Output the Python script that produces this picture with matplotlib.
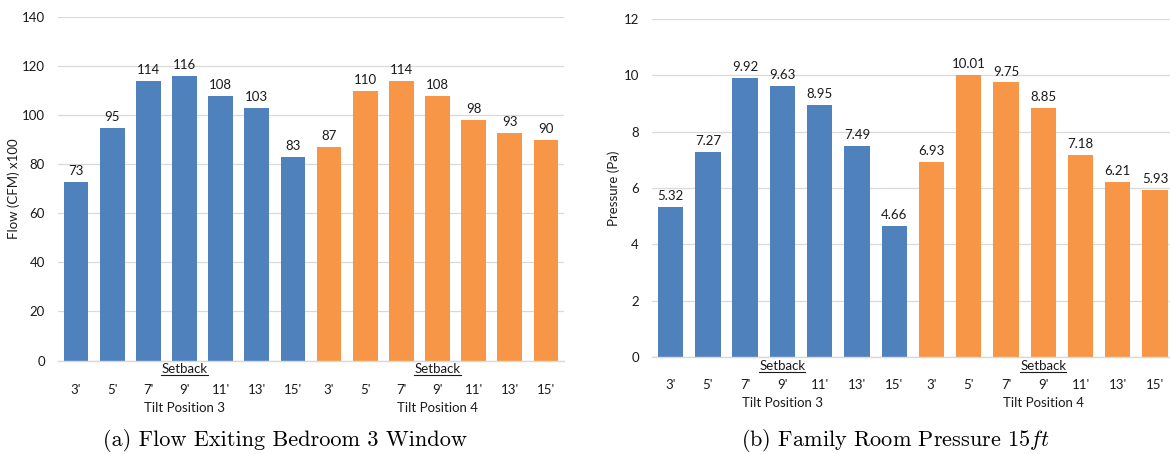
import numpy as np
import matplotlib.pyplot as plt
from matplotlib.lines import Line2D

plt.rcParams['font.family'] = ['Lato', 'DejaVu Sans']
plt.rcParams['mathtext.fontset'] = 'cm'

# data
setbacks = ["3'", "5'", "7'", "9'", "11'", "13'", "15'"]
flow_tilt3 = [73, 95, 114, 116, 108, 103, 83]
flow_tilt4 = [87, 110, 114, 108, 98, 93, 90]
press_tilt3 = [5.32, 7.27, 9.92, 9.63, 8.95, 7.49, 4.66]
press_tilt4 = [6.93, 10.01, 9.75, 8.85, 7.18, 6.21, 5.93]

blue = '#4f81bd'
orange = '#f79646'
grid_c = '#d9d9d9'
fs = 9.5
txt_c = '#1a1a1a'

W, H = 1170, 454
fig = plt.figure(figsize=(W / 100, H / 100), dpi=100)


def px_axes(x0, x1, ytop, ybot):
    return fig.add_axes([x0 / W, 1 - ybot / H, (x1 - x0) / W, (ybot - ytop) / H])


ax1 = px_axes(58, 564, 17.3, 360.5)
ax2 = px_axes(652, 1170, 19, 357)

underlines = []


def draw_panel(ax, v3, v4, ymax, ystep, fmt, ylabel, xlim_right, offs, ylab_x):
    n = len(setbacks)
    x3 = np.arange(n)
    x4 = np.arange(n) + n
    b3 = ax.bar(x3, v3, width=0.68, color=blue, zorder=2)
    b4 = ax.bar(x4, v4, width=0.68, color=orange, zorder=2)
    ax.bar_label(b3, fmt=fmt, padding=3.5, fontsize=fs, color=txt_c)
    ax.bar_label(b4, fmt=fmt, padding=3.5, fontsize=fs, color=txt_c)

    ax.set_xlim(-0.5, xlim_right)
    ax.set_ylim(0, ymax)
    ax.set_yticks(np.arange(0, ymax + ystep / 2, ystep))
    ax.grid(axis='y', color=grid_c, lw=0.9, zorder=0)
    ax.set_axisbelow(True)
    for s in ['top', 'right', 'left']:
        ax.spines[s].set_visible(False)
    ax.spines['bottom'].set_color(grid_c)
    ax.spines['bottom'].set_linewidth(1.0)
    ax.tick_params(axis='y', length=0, pad=9.5, labelsize=fs, colors=txt_c)

    ax.set_xticks(np.arange(2 * n))
    ax.set_xticklabels(setbacks + setbacks)
    ax.tick_params(axis='x', length=0, pad=offs[1], labelsize=fs, colors=txt_c)

    for g, name in enumerate(['Tilt Position 3', 'Tilt Position 4']):
        cx = g * n + 3
        t = ax.annotate('Setback', xy=(cx, 0), xycoords=('data', 'axes fraction'),
                        xytext=(0, -offs[0]), textcoords='offset points',
                        ha='center', va='center', fontsize=fs, color=txt_c)
        underlines.append(t)
        ax.annotate(name, xy=(cx, 0), xycoords=('data', 'axes fraction'),
                    xytext=(0, -offs[2]), textcoords='offset points',
                    ha='center', va='center', fontsize=fs, color=txt_c)

    ax.set_ylabel(ylabel, fontsize=fs, color=txt_c)
    ax.yaxis.set_label_coords(ylab_x, 0.5)


draw_panel(ax1, flow_tilt3, flow_tilt4, 140, 20, '%d', 'Flow (CFM) x100',
           13.5, (6.2, 17.0, 34.0), -0.076)
draw_panel(ax2, press_tilt3, press_tilt4, 12, 2, '%.2f', 'Pressure (Pa)',
           13.4, (6.5, 15.5, 33.0), -0.061)

fig.text(285 / W, 1 - 440 / H, '(a) Flow Exiting Bedroom 3 Window',
         family='cmr10', fontsize=16, ha='center', va='center')
fig.text(1050 / W, 1 - 440 / H, '(b) Family Room Pressure $15ft$',
         family='cmr10', fontsize=16, ha='right', va='center')

# underline the "Setback" labels
fig.canvas.draw()
r = fig.canvas.get_renderer()
for t in underlines:
    bb = t.get_window_extent(r)
    yy = bb.y0 + 0.5
    fig.add_artist(Line2D([bb.x0 / W, bb.x1 / W], [yy / H, yy / H],
                          transform=fig.transFigure, color=txt_c, lw=0.8))

fig.savefig('out.png', dpi=100)
